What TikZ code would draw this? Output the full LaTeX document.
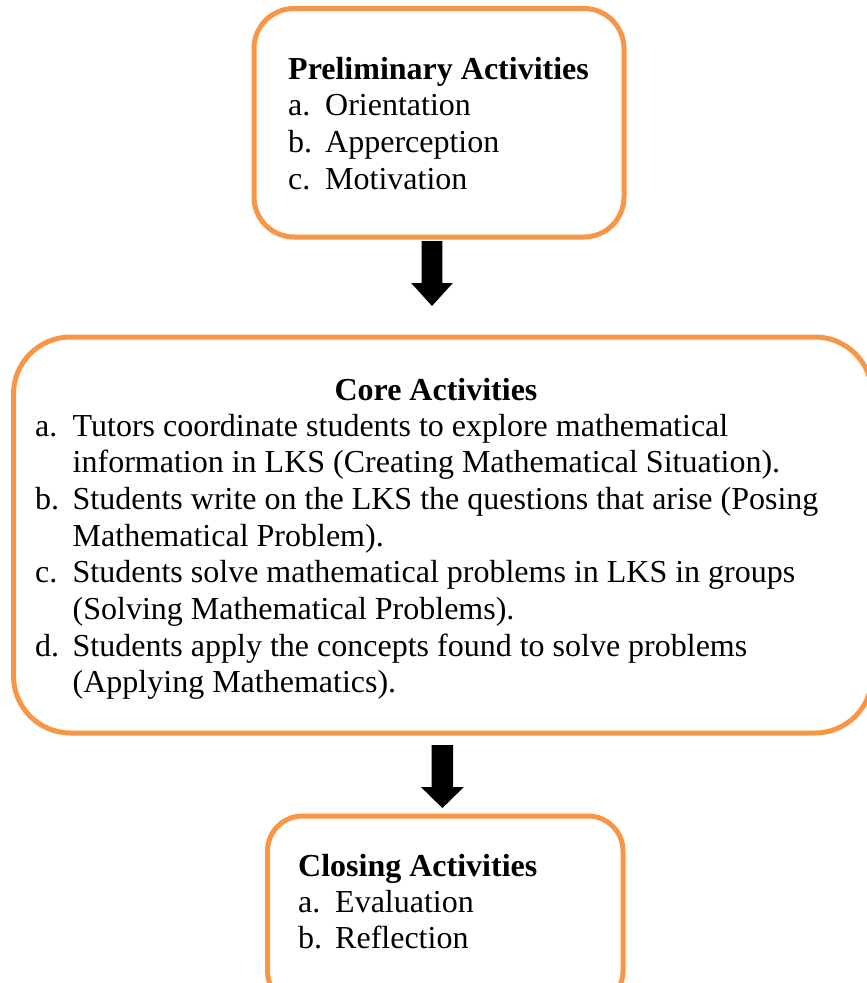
\documentclass[tikz,border=0pt]{standalone}
\usepackage{fontspec}
\setmainfont{Liberation Serif}
\usetikzlibrary{calc}
\definecolor{boxorange}{HTML}{F79646}
\begin{document}
\begin{tikzpicture}[x=1pt,y=-1pt,
  box/.style={draw=boxorange, line width=5pt, rectangle, inner sep=0pt},
  txt/.style={anchor=base west, inner sep=0pt, font=\fontsize{32}{36.7}\selectfont},
  head/.style={anchor=base west, inner sep=0pt, font=\fontsize{32}{36.7}\selectfont\bfseries},
  blockarrow/.style={fill=black}]
\useasboundingbox (0,0) rectangle (867,983);
\clip (0,0) rectangle (867,983);
% boxes
\node[box, minimum width=370pt, minimum height=228.5pt, rounded corners=40pt] (pre) at (439,122.75) {};
\node[box, minimum width=858.5pt, minimum height=396pt, rounded corners=57pt] (core) at (442.75,535) {};
\node[box, minimum width=355.5pt, minimum height=190pt, rounded corners=35pt] (clo) at (445.25,911) {};
% arrows
\coordinate (a1s) at (432,241);
\coordinate (a1e) at (432,306);
\fill[blockarrow] ($(a1s)+(-10.3,0)$) -- ($(a1s)+(10.3,0)$) -- ($(a1s)+(10.3,42)$) -- ($(a1s)+(20.8,42)$) -- (a1e) -- ($(a1s)+(-20.8,42)$) -- ($(a1s)+(-10.3,42)$) -- cycle;
\coordinate (a2s) at (442.4,745);
\coordinate (a2e) at (442.4,808);
\fill[blockarrow] ($(a2s)+(-10.8,0)$) -- ($(a2s)+(10.8,0)$) -- ($(a2s)+(10.8,42)$) -- ($(a2s)+(21.5,42)$) -- (a2e) -- ($(a2s)+(-21.5,42)$) -- ($(a2s)+(-10.8,42)$) -- cycle;
% preliminary
\node[head] (preh) at (288,79) {Preliminary Activities};
\node[txt] (prela) at (288,115) {a.};
\node[txt] (preta) at (325,115) {Orientation};
\node[txt] (prelb) at (288,152) {b.};
\node[txt] (pretb) at (325,152) {Apperception};
\node[txt] (prelc) at (288,189) {c.};
\node[txt] (pretc) at (325,189) {Motivation};
% core
\node[head, anchor=base] (coreh) at (436,400) {Core Activities};
\node[txt] (corela) at (35,436) {a.};
\node[txt] (corea1) at (72.5,436) {Tutors coordinate students to explore mathematical};
\node[txt] (corea2) at (72.5,472.7) {information in LKS (Creating Mathematical Situation).};
\node[txt] (corelb) at (35,509.4) {b.};
\node[txt] (coreb1) at (72.5,509.4) {Students write on the LKS the questions that arise (Posing};
\node[txt] (coreb2) at (72.5,546) {Mathematical Problem).};
\node[txt] (corelc) at (35,582.8) {c.};
\node[txt] (corec1) at (72.5,582.8) {Students solve mathematical problems in LKS in groups};
\node[txt] (corec2) at (72.5,619.5) {(Solving Mathematical Problems).};
\node[txt] (coreld) at (35,656.2) {d.};
\node[txt] (cored1) at (72.5,656.2) {Students apply the concepts found to solve problems};
\node[txt] (cored2) at (72.5,692.9) {(Applying Mathematics).};
% closing
\node[head] (cloh) at (298,876) {Closing Activities};
\node[txt] (clola) at (298,912) {a.};
\node[txt] (clota) at (335,912) {Evaluation};
\node[txt] (clolb) at (298,948) {b.};
\node[txt] (clotb) at (335,948) {Reflection};
\end{tikzpicture}
\end{document}
